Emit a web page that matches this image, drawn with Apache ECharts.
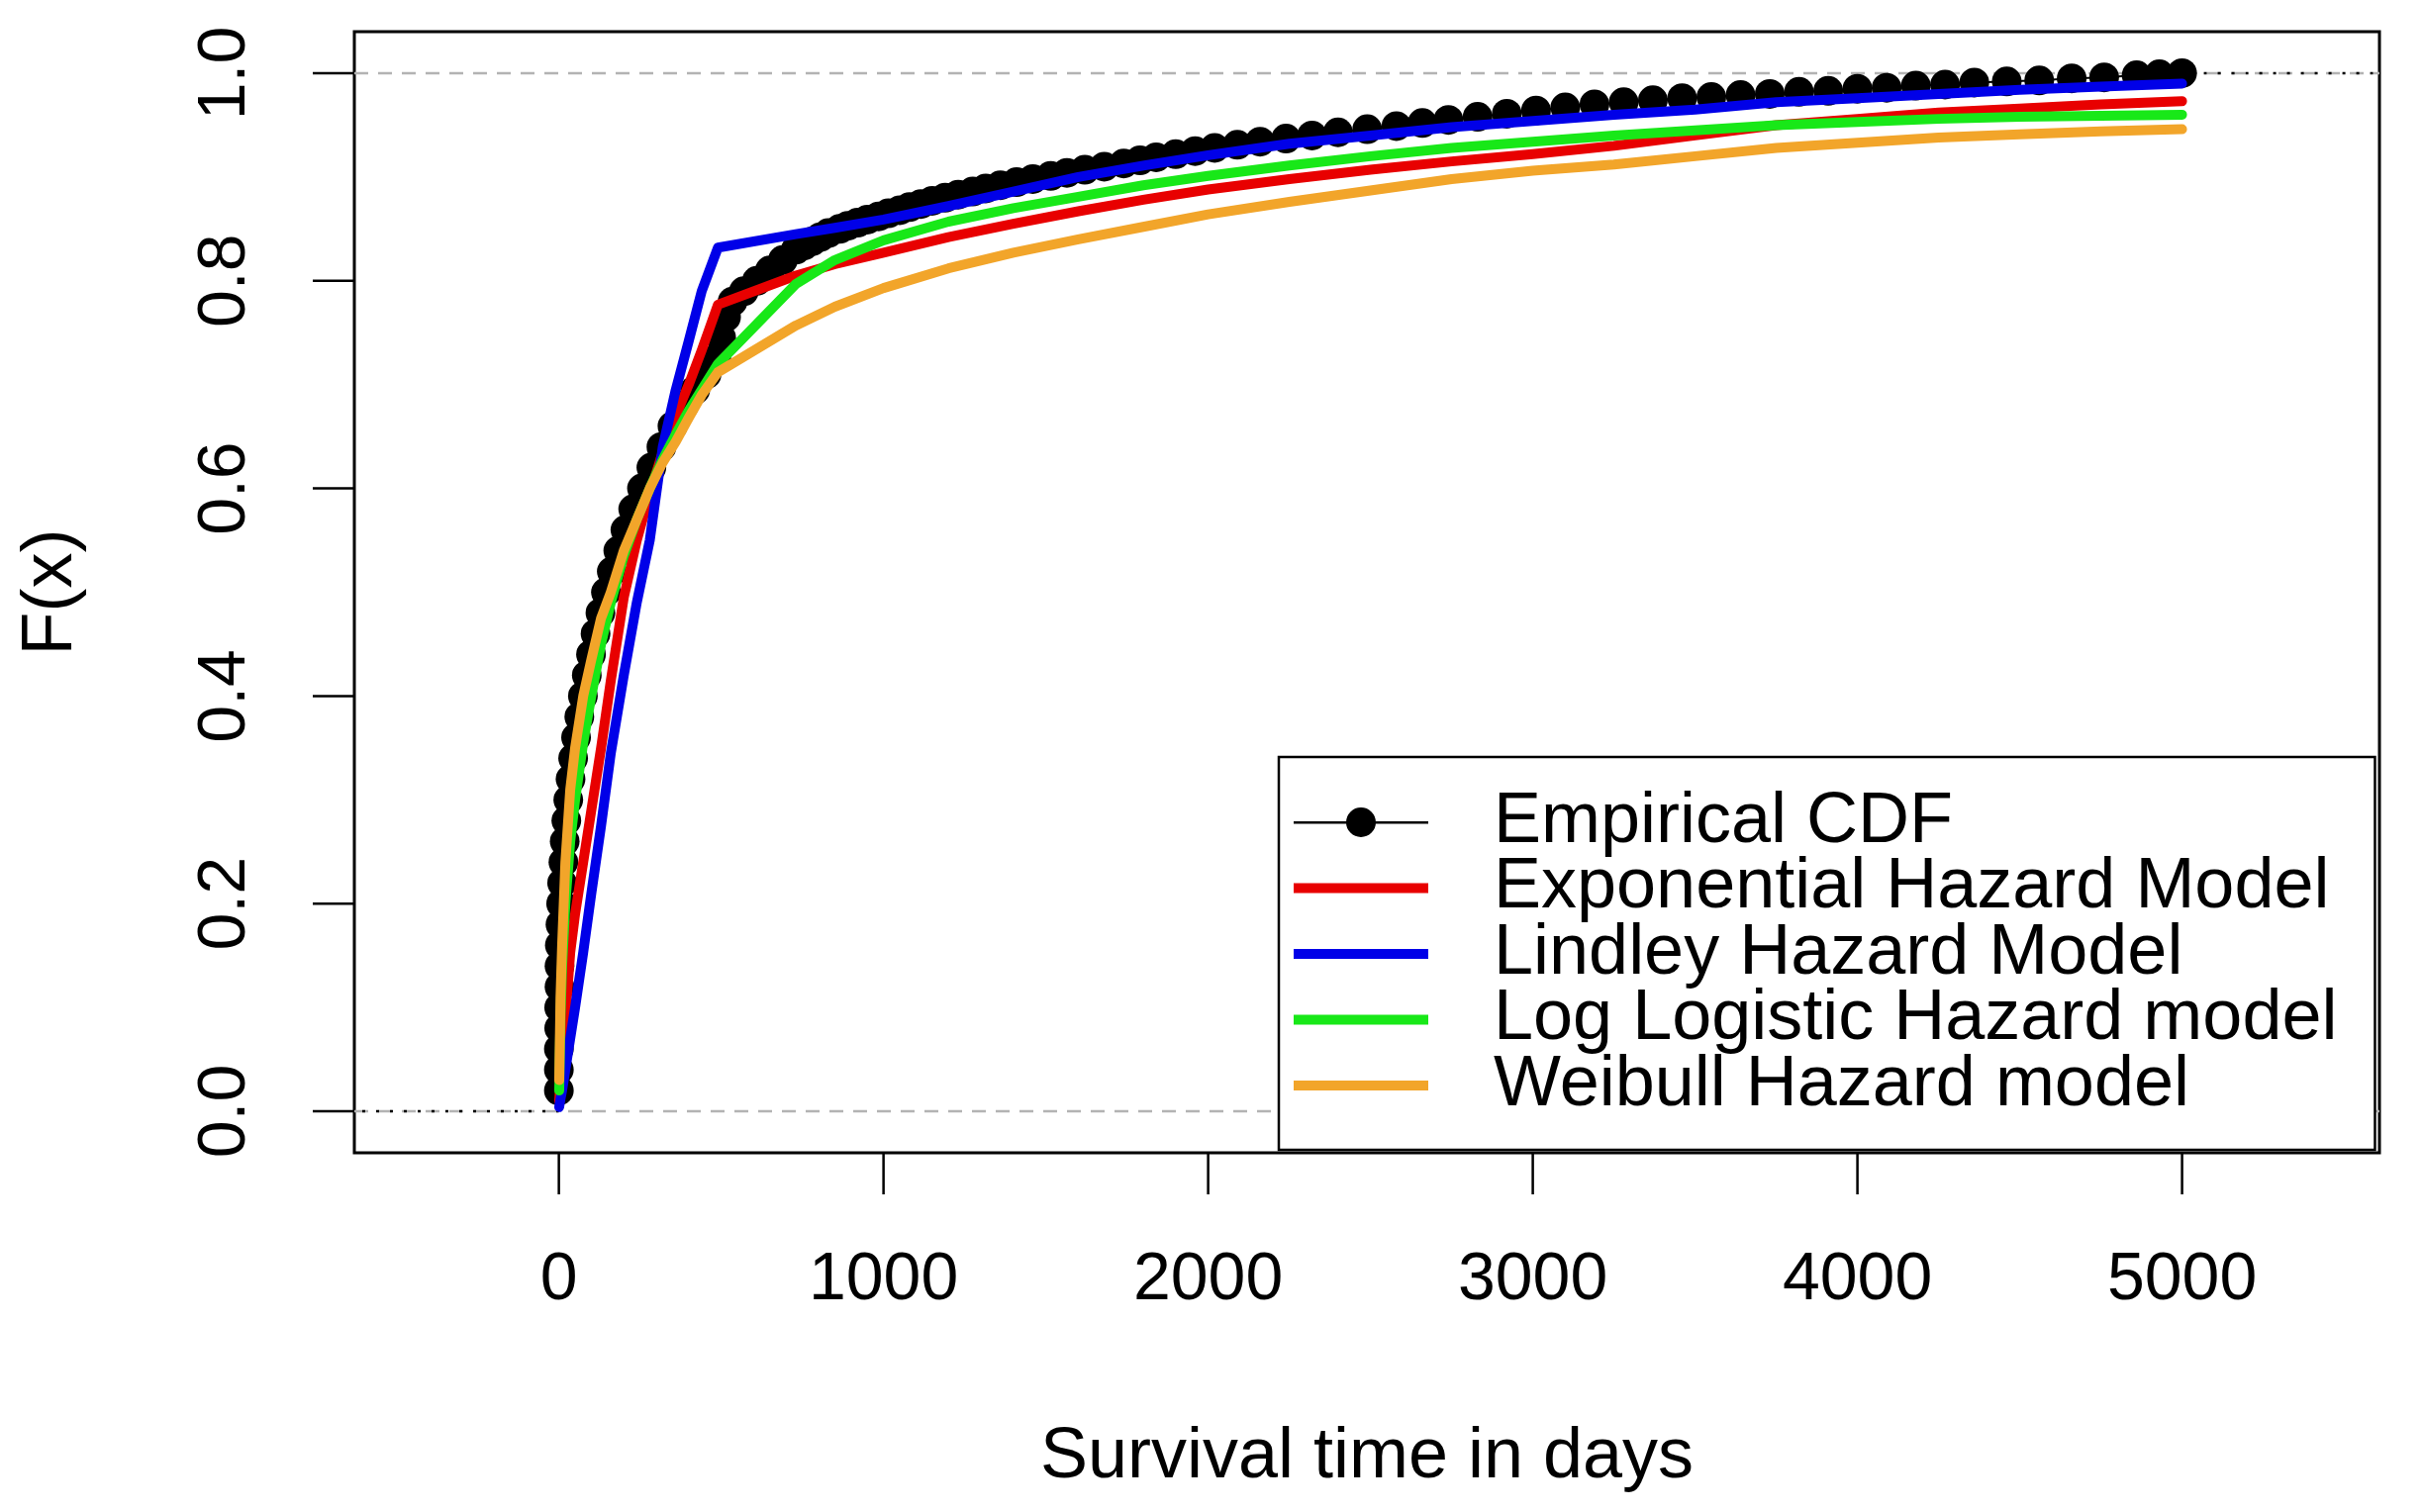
<!DOCTYPE html>
<html>
<head>
<meta charset="utf-8">
<script src="https://cdn.jsdelivr.net/npm/echarts@6/dist/echarts.min.js"></script>
<style>
html,body{margin:0;padding:0;background:#fff;}
#chart{width:2448px;height:1528px;}
</style>
</head>
<body>
<div id="chart"></div>
<script>
// ---- axis settings ----
const X_MIN = -630, X_MAX = 5608;
const Y_MIN = -0.04, Y_MAX = 1.04;
const xTicks = [0, 1000, 2000, 3000, 4000, 5000];
const yTicks = [0, 0.2, 0.4, 0.6, 0.8, 1.0];

// ---- empirical CDF ----
const ecdfTimes = [0,0,0,1,1,2,2,3,5,7,10,14,18,23,29,36,44,53,63,74,86,99,113,128,145,163,183,205,229,256,285,316,350,385,420,455,485,500,515,535,570,610,650,690,
  730,755,780,805,830,865,890,920,950,985,1015,1050,1080,1115,1150,1190,1230,1275,1315,1360,1410,1460,1515,1565,1620,1680,1740,1790,1840,1900,1960,2020,2090,2160,2240,2320,2400,2490,2580,2660,2740,2830,2920,3010,3100,
  3190,3280,3370,3460,3550,3640,3730,3820,3910,4000,4090,4180,4270,4360,4460,4560,4660,4760,4860,4930,5000];
const ecdfValues = [0.02,0.04,0.06,0.08,0.10,0.12,0.14,0.16,0.18,0.20,0.22,0.24,0.26,0.28,0.30,0.32,0.34,0.36,0.38,0.40,0.42,0.44,0.46,0.48,0.50,0.52,0.54,0.56,0.58,0.60,0.62,0.64,0.66,0.68,0.695,0.71,0.725,0.745,0.765,0.78,0.79,0.80,0.81,0.82,
  0.830,0.834,0.838,0.842,0.846,0.850,0.853,0.856,0.859,0.862,0.865,0.868,0.871,0.874,0.877,0.880,0.883,0.886,0.889,0.892,0.895,0.898,0.901,0.904,0.907,0.910,0.913,0.916,0.919,0.922,0.925,0.928,0.931,0.934,0.937,0.940,0.943,0.946,0.949,0.952,0.955,0.958,0.961,0.964,0.967,
  0.970,0.972,0.974,0.976,0.977,0.979,0.980,0.982,0.983,0.985,0.986,0.988,0.989,0.991,0.992,0.993,0.995,0.996,0.998,0.999,1.000];

// ---- fitted models (evaluated at these times) ----
const modelTimes = [1,5,10,20,35,50,75,100,130,160,200,240,280,320,360,400,440,490,730,850,1000,1200,1400,1600,1800,2000,2250,2500,2750,3000,3250,3500,3750,4000,4250,4500,4750,5000];
const exponentialCDF = [0.01,0.03,0.05,0.09,0.153,0.19,0.24,0.29,0.35,0.415,0.495,0.55,0.595,0.635,0.67,0.70,0.733,0.777,0.805,0.816,0.827,0.842,0.855,0.867,0.878,0.888,0.898,0.907,0.915,0.922,0.930,0.940,0.950,0.956,0.962,0.966,0.970,0.973];
const lindleyCDF = [0.004,0.012,0.02,0.04,0.07,0.10,0.153,0.21,0.275,0.345,0.42,0.49,0.55,0.64,0.695,0.742,0.79,0.832,0.845,0.851,0.859,0.872,0.886,0.90,0.911,0.921,0.932,0.940,0.948,0.954,0.960,0.965,0.972,0.976,0.980,0.984,0.987,0.990];
const logLogisticCDF = [0.02,0.09,0.14,0.20,0.26,0.30,0.355,0.40,0.45,0.49,0.535,0.57,0.60,0.628,0.652,0.675,0.695,0.72,0.797,0.820,0.839,0.857,0.870,0.881,0.892,0.901,0.911,0.920,0.928,0.934,0.940,0.945,0.950,0.953,0.956,0.958,0.959,0.960];
const weibullCDF = [0.03,0.11,0.16,0.24,0.31,0.35,0.40,0.435,0.475,0.50,0.54,0.57,0.60,0.625,0.645,0.668,0.69,0.712,0.757,0.775,0.793,0.812,0.827,0.840,0.852,0.864,0.876,0.887,0.898,0.906,0.912,0.920,0.928,0.933,0.938,0.941,0.944,0.946];

const seriesNames = ['Empirical CDF','Exponential Hazard Model','Lindley Hazard Model','Log Logistic Hazard model','Weibull Hazard model'];
const seriesColors = ['#000000','#E80000','#0000E8','#18E818','#F2A52A'];

const FONT = "'Liberation Sans', Arial, Helvetica, sans-serif";
const TICK_LEN = 42;
const GRID = { left: 358, right: 44, top: 32, bottom: 363 };
const pairs = (xs, ys) => xs.map((x, i) => [x, ys[i]]);

function modelSeries(idx, values) {
  return {
    name: seriesNames[idx], type: 'line', z: 3 + idx * 0.1,
    data: pairs(modelTimes, values),
    showSymbol: false, symbol: 'none',
    lineStyle: { color: seriesColors[idx], width: 10, cap: 'round', join: 'round' },
    itemStyle: { color: seriesColors[idx] },
    emphasis: { disabled: true }, silent: true
  };
}

const lineIcon = 'path://M0,0H136V10H0Z';
const ecdfIcon = 'path://M0,14H136V16.5H0Z M68,0A15,15 0 1,1 68,30A15,15 0 1,1 68,0Z';

const chart = echarts.init(document.getElementById('chart'));
chart.setOption({
  animation: false,
  backgroundColor: '#ffffff',
  grid: Object.assign({ show: true, borderColor: '#000', borderWidth: 3, backgroundColor: 'transparent' }, GRID),
  xAxis: {
    type: 'value', min: X_MIN, max: X_MAX,
    name: 'Survival time in days', nameLocation: 'middle', nameGap: 272,
    nameTextStyle: { fontFamily: FONT, fontSize: 72, color: '#000' },
    axisLine: { show: false, onZero: false },
    axisTick: { show: false },
    axisLabel: { customValues: xTicks, fontFamily: FONT, fontSize: 68, color: '#000', margin: 95,
      formatter: v => String(v) },
    splitLine: { show: false }
  },
  yAxis: {
    type: 'value', min: Y_MIN, max: Y_MAX,
    name: 'F(x)', nameLocation: 'middle', nameGap: 270,
    nameTextStyle: { fontFamily: FONT, fontSize: 72, color: '#000' },
    axisLine: { show: false, onZero: false },
    axisTick: { show: false },
    axisLabel: { customValues: yTicks, rotate: 90, fontFamily: FONT, fontSize: 68, color: '#000', margin: 96,
      formatter: v => v.toFixed(1) },
    splitLine: { show: false }
  },
  legend: {
    orient: 'vertical', left: 1292, top: 765, z: 10,
    padding: [30, 38, 29, 15],
    itemWidth: 136, itemHeight: 30, itemGap: -5.5,
    borderColor: '#000', borderWidth: 2.5, backgroundColor: '#fff',
    textStyle: { fontFamily: FONT, fontSize: 72, color: '#000', lineHeight: 66, padding: [0, 0, 0, 61] },
    selectedMode: false,
    data: seriesNames.map((n, i) => ({ name: n, icon: i === 0 ? ecdfIcon : lineIcon }))
  },
  series: [
    {
      name: 'ref01', type: 'line', data: [[X_MIN, 0], [X_MAX, 0]], symbol: 'none', silent: true,
      lineStyle: { color: '#B3B3B3', width: 2.5, type: [14, 10] }, z: 1
    },
    {
      name: 'ref1', type: 'line', data: [[X_MIN, 1], [X_MAX, 1]], symbol: 'none', silent: true,
      lineStyle: { color: '#B3B3B3', width: 2.5, type: [14, 10] }, z: 1
    },
    {
      name: 'ecdfLeft', type: 'line', data: [[X_MIN, 0], [ecdfTimes[0], 0]], symbol: 'none', silent: true,
      lineStyle: { color: '#000', width: 2.5, type: [3, 11], dashOffset: 6 }, z: 1
    },
    {
      name: 'ecdfRight', type: 'line', data: [[ecdfTimes[ecdfTimes.length - 1], 1], [X_MAX, 1]], symbol: 'none', silent: true,
      lineStyle: { color: '#000', width: 2.5, type: [3, 11], dashOffset: 6 }, z: 1
    },
    {
      name: seriesNames[0], type: 'line', z: 2, data: pairs(ecdfTimes, ecdfValues),
      symbol: 'circle', symbolSize: 30, showSymbol: true,
      itemStyle: { color: '#000' }, lineStyle: { color: '#000', width: 2 },
      emphasis: { disabled: true }, silent: true
    },
    modelSeries(1, exponentialCDF),
    modelSeries(2, lindleyCDF),
    modelSeries(3, logLogisticCDF),
    modelSeries(4, weibullCDF)
  ]
});

// ---- outward tick marks on the box edges ----
function toPixel(x, y) {
  const finders = [{ xAxisIndex: 0, yAxisIndex: 0 }, { gridIndex: 0 }];
  for (const f of finders) {
    try {
      const p = chart.convertToPixel(f, [x, y]);
      if (p && isFinite(p[0]) && isFinite(p[1])) return p;
    } catch (e) { /* try next */ }
  }
  // fallback: same linear mapping the value axes use
  const w = 2448 - GRID.left - GRID.right, h = 1528 - GRID.top - GRID.bottom;
  return [GRID.left + (x - X_MIN) / (X_MAX - X_MIN) * w, GRID.top + (Y_MAX - y) / (Y_MAX - Y_MIN) * h];
}
try {
  const zr = chart.getZr();
  const addTick = (x1, y1, x2, y2) => {
    const ln = new echarts.graphic.Line({
      shape: { x1: x1, y1: y1, x2: x2, y2: y2 },
      style: { stroke: '#000', lineWidth: 2.5 }, z: 100, silent: true
    });
    zr.add(ln);
  };
  xTicks.forEach(v => { const p = toPixel(v, Y_MIN); addTick(p[0], p[1], p[0], p[1] + TICK_LEN); });
  yTicks.forEach(v => { const p = toPixel(X_MIN, v); addTick(p[0], p[1], p[0] - TICK_LEN, p[1]); });
} catch (e) { console.error(e); }
</script>
</body>
</html>
